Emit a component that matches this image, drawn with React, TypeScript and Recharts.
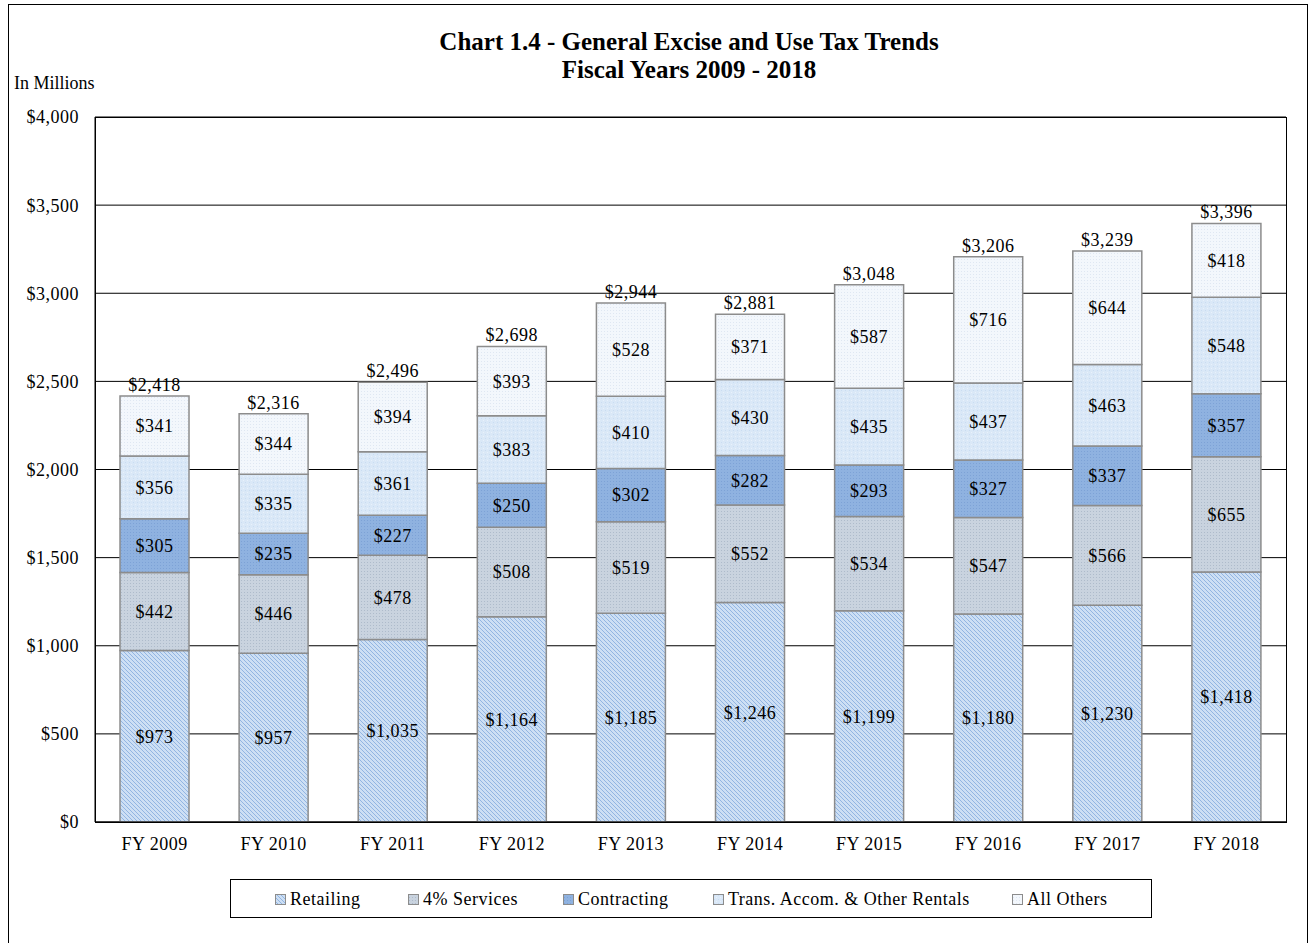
import { BarChart, Bar, XAxis, YAxis, CartesianGrid, LabelList } from "recharts";

const years = ["FY 2009", "FY 2010", "FY 2011", "FY 2012", "FY 2013", "FY 2014", "FY 2015", "FY 2016", "FY 2017", "FY 2018"];
const retailing = [973, 957, 1035, 1164, 1185, 1246, 1199, 1180, 1230, 1418];
const services = [442, 446, 478, 508, 519, 552, 534, 547, 566, 655];
const contracting = [305, 235, 227, 250, 302, 282, 293, 327, 337, 357];
const rentals = [356, 335, 361, 383, 410, 430, 435, 437, 463, 548];
const others = [341, 344, 394, 393, 528, 371, 587, 716, 644, 418];
const totals = [2418, 2316, 2496, 2698, 2944, 2881, 3048, 3206, 3239, 3396];
const yTicks = [0, 500, 1000, 1500, 2000, 2500, 3000, 3500, 4000];

const data = years.map((y, i) => ({
  year: y,
  retailing: retailing[i],
  services: services[i],
  contracting: contracting[i],
  rentals: rentals[i],
  others: others[i],
  total: totals[i],
}));

const money = (v: number) => "$" + Number(v).toLocaleString("en-US");
const font = "'Liberation Serif', 'Times New Roman', serif";
const txt = { fill: "#000", fontSize: 18, fontFamily: font, letterSpacing: 0.5 };

const series = [
  { key: "retailing", name: "Retailing", fill: "url(#pRetail)" },
  { key: "services", name: "4% Services", fill: "url(#pServices)" },
  { key: "contracting", name: "Contracting", fill: "url(#pContract)" },
  { key: "rentals", name: "Trans. Accom. & Other Rentals", fill: "url(#pRentals)" },
  { key: "others", name: "All Others", fill: "url(#pOthers)" },
];

function Patterns() {
  return (
    <defs>
      <pattern id="pRetail" width="4" height="4" patternUnits="userSpaceOnUse">
        <rect width="4" height="4" fill="#cddff4" />
        <path d="M0,0 L4,4 M-1,3 L1,5 M3,-1 L5,1" stroke="#92b5e2" strokeWidth="1" />
      </pattern>
      <pattern id="pServices" width="3" height="3" patternUnits="userSpaceOnUse">
        <rect width="3" height="3" fill="#c9d3df" />
        <rect x="1" y="1" width="1" height="1" fill="#aebbcb" />
      </pattern>
      <pattern id="pContract" width="3" height="3" patternUnits="userSpaceOnUse">
        <rect width="3" height="3" fill="#8fb2e0" />
        <rect x="1" y="1" width="1" height="1" fill="#7da2d6" />
      </pattern>
      <pattern id="pRentals" width="4" height="4" patternUnits="userSpaceOnUse">
        <rect width="4" height="4" fill="#dae8f7" />
        <rect x="1" y="2" width="1" height="1" fill="#c9dcf2" />
        <rect x="3" y="0" width="1" height="1" fill="#e9f1fb" />
      </pattern>
      <pattern id="pOthers" width="3" height="3" patternUnits="userSpaceOnUse">
        <rect width="3" height="3" fill="#f3f7fc" />
        <rect x="1" y="1" width="1" height="1" fill="#dfe7f2" />
      </pattern>
    </defs>
  );
}

const legendPos = [275, 408, 563, 713, 1012];

export default function App() {
  return (
    <div style={{ position: "absolute", left: 0, top: 0, width: 1312, height: 943, background: "#fff", fontFamily: font, overflow: "hidden" }}>
      <div style={{ position: "absolute", left: 8, top: 4, width: 1300, height: 960, border: "1.5px solid #000", boxSizing: "border-box" }} />
      <div style={{ position: "absolute", left: 0, top: 28, width: 1378, textAlign: "center", fontWeight: "bold", fontSize: 25, lineHeight: "28px", color: "#000" }}>
        Chart 1.4 - General Excise and Use Tax Trends
        <br />
        Fiscal Years 2009 - 2018
      </div>
      <div style={{ position: "absolute", left: 14, top: 73, fontSize: 18, color: "#000" }}>In Millions</div>
      <div style={{ position: "absolute", left: 0, top: 0 }}>
        <BarChart width={1312} height={943} data={data} margin={{ top: 117, right: 26, bottom: 91, left: 0 }} barCategoryGap="21%">
          <Patterns />
          <CartesianGrid vertical={false} stroke="#000" strokeWidth={1} />
          <XAxis dataKey="year" tickLine={false} axisLine={{ stroke: "#000" }} height={30} tickMargin={9} tick={txt} />
          <YAxis domain={[0, 4000]} ticks={yTicks} tickFormatter={money} tickLine={false} width={95} tickMargin={10}
            axisLine={{ stroke: "#000" }} tick={txt} />
          {series.map((s, i) => (
            <Bar key={s.key} dataKey={s.key} name={s.name} stackId="a" fill={s.fill} stroke="#8c8c8c" strokeWidth={1.5} isAnimationActive={false}>
              <LabelList dataKey={s.key} position="center" formatter={(v: any) => money(v)} style={txt} />
              {i === series.length - 1 && (
                <LabelList dataKey="total" position="top" offset={5} formatter={(v: any) => money(v)} style={txt} />
              )}
            </Bar>
          ))}
        </BarChart>
      </div>
      <div style={{ position: "absolute", left: 95, top: 117, width: 1192, height: 706, border: "1px solid #000", boxSizing: "border-box", pointerEvents: "none" }} />
      <div style={{ position: "absolute", left: 230, top: 879, width: 922, height: 39, border: "1.5px solid #000", boxSizing: "border-box" }} />
      {series.map((s, i) => (
        <div key={s.key} style={{ position: "absolute", left: legendPos[i], top: 889, height: 20, display: "flex", alignItems: "center", fontSize: 18, letterSpacing: 0.5, color: "#000" }}>
          <svg width={13} height={12} style={{ marginRight: 2 }}>
            <Patterns />
            <rect x={0.5} y={1.5} width={10} height={10} fill={s.fill} stroke="#8c8c8c" strokeWidth={1} />
          </svg>
          {s.name}
        </div>
      ))}
    </div>
  );
}
